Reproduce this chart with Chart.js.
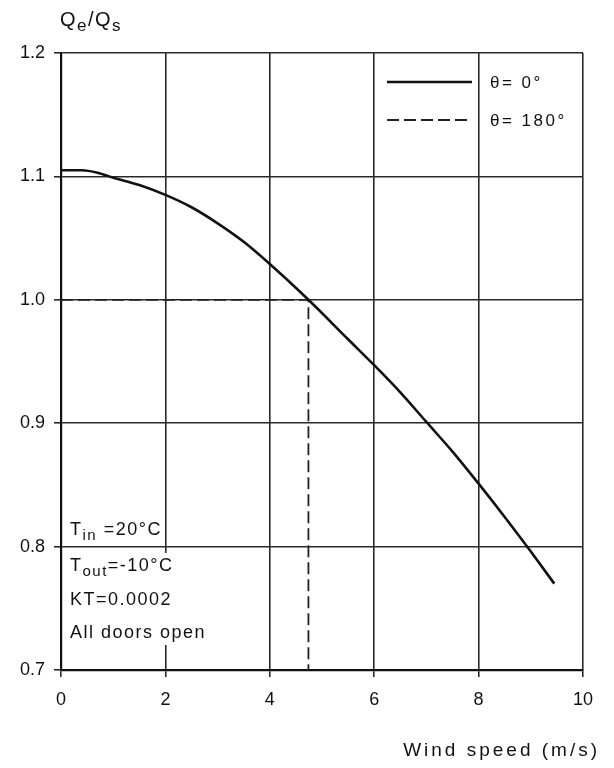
<!DOCTYPE html>
<html>
<head>
<meta charset="utf-8">
<script src="https://cdn.jsdelivr.net/npm/chart.js@4/dist/chart.umd.min.js"></script>
<style>
  body { margin: 0; background: #fff; }
  canvas { display: block; }
</style>
</head>
<body>
<canvas id="chart" width="614" height="768"></canvas>
<script>
// data
const windSpeed = [0, 0.4, 0.7, 1, 1.5, 2, 2.5, 3, 3.5, 4, 4.74, 5.5, 6, 6.5, 7, 7.5, 8, 8.5, 9, 9.45];
const ratio0 = [1.105, 1.105, 1.103, 1.099, 1.093, 1.085, 1.075, 1.062, 1.047, 1.029, 1.0, 0.968, 0.947, 0.925, 0.901, 0.877, 0.851, 0.824, 0.796, 0.770];
const windSpeed180 = [0, 4.74, 4.74];
const ratio180 = [1.0, 1.0, 0.7];
const seriesLabels = ["θ= 0°", "θ= 180°"];
const noteLines = [
    [["T", false], ["in", true], [" =20°C", false]],
    [["T", false], ["out", true], ["=-10°C", false]],
    [["KT=0.0002", false]],
    [["All doors open", false]]
];

const FONT = "'Liberation Sans', Arial, sans-serif";

function toPoints(xs, ys) {
    return xs.map((x, i) => ({x: x, y: ys[i]}));
}

// text with subscripts, letter spaced
function drawParts(ctx, parts, x, y, size, spacing) {
    ctx.save();
    ctx.letterSpacing = spacing + "px";
    ctx.textBaseline = "alphabetic";
    ctx.textAlign = "left";
    parts.forEach(p => {
        let sub = p[1];
        ctx.font = (sub ? Math.round(size * 0.85) : size) + "px " + FONT;
        ctx.fillText(p[0], x, sub ? y + 5 : y);
        x += ctx.measureText(p[0]).width;
    });
    ctx.restore();
}

const extras = {
    id: "extras",
    beforeDatasetsDraw(chart) {
        let ctx = chart.ctx;
        // white patch behind the notes (covers grid there)
        ctx.save();
        ctx.fillStyle = "#fff";
        ctx.fillRect(64, 553, 170, 92);
        ctx.restore();
    },
    afterDraw(chart) {
        let ctx = chart.ctx;
        ctx.fillStyle = "#111";

        // y title
        drawParts(ctx, [["Q", false], ["e", true], ["/Q", false], ["s", true]], 60, 26, 20, 1.5);

        // x title
        ctx.save();
        ctx.font = "19px " + FONT;
        ctx.letterSpacing = "3px";
        ctx.textAlign = "right";
        ctx.fillText("Wind speed (m/s)", 600, 756);
        ctx.restore();

        // legend
        let ds = chart.data.datasets;
        let rows = [82, 120];
        ds.forEach((d, i) => {
            ctx.save();
            ctx.strokeStyle = d.borderColor;
            ctx.lineWidth = d.borderWidth;
            ctx.setLineDash(d.borderDash || []);
            ctx.beginPath();
            ctx.moveTo(387, rows[i]);
            ctx.lineTo(472, rows[i]);
            ctx.stroke();
            ctx.restore();
            drawParts(ctx, [[d.label, false]], 490, rows[i] + 6, 17, 2.5);
        });

        // notes
        let ys = [535, 571, 605, 638];
        noteLines.forEach((parts, i) => drawParts(ctx, parts, 70, ys[i], 18, 1.5));
    }
};

new Chart(document.getElementById("chart"), {
    type: "line",
    data: {
        datasets: [
            {label: seriesLabels[0], data: toPoints(windSpeed, ratio0), borderColor: "#111",
             borderWidth: 2.6, pointRadius: 0, cubicInterpolationMode: "monotone", fill: false},
            {label: seriesLabels[1], data: toPoints(windSpeed180, ratio180), borderColor: "#222",
             borderWidth: 1.8, borderDash: [12, 5], pointRadius: 0, tension: 0, fill: false}
        ]
    },
    options: {
        responsive: false,
        animation: false,
        layout: { padding: { top: 53, right: 31, left: 0, bottom: 0 } },
        plugins: { legend: { display: false }, tooltip: { enabled: false } },
        scales: {
            x: {
                type: "linear", min: 0, max: 10,
                afterFit: s => { s.height = 98; },
                ticks: { stepSize: 2, padding: 12, color: "#111", font: { family: FONT, size: 18 } },
                grid: { color: "#2a2a2a", lineWidth: 1.6, tickLength: 7 },
                border: { color: "#111", width: 2.2 }
            },
            y: {
                min: 0.7, max: 1.2,
                afterFit: s => { s.width = 61; },
                ticks: { stepSize: 0.1, padding: 9, color: "#111", font: { family: FONT, size: 18 },
                         callback: v => v.toFixed(1) },
                grid: { color: "#2a2a2a", lineWidth: 1.6, tickLength: 7 },
                border: { color: "#111", width: 2.2 }
            }
        }
    },
    plugins: [extras]
});
</script>
</body>
</html>
